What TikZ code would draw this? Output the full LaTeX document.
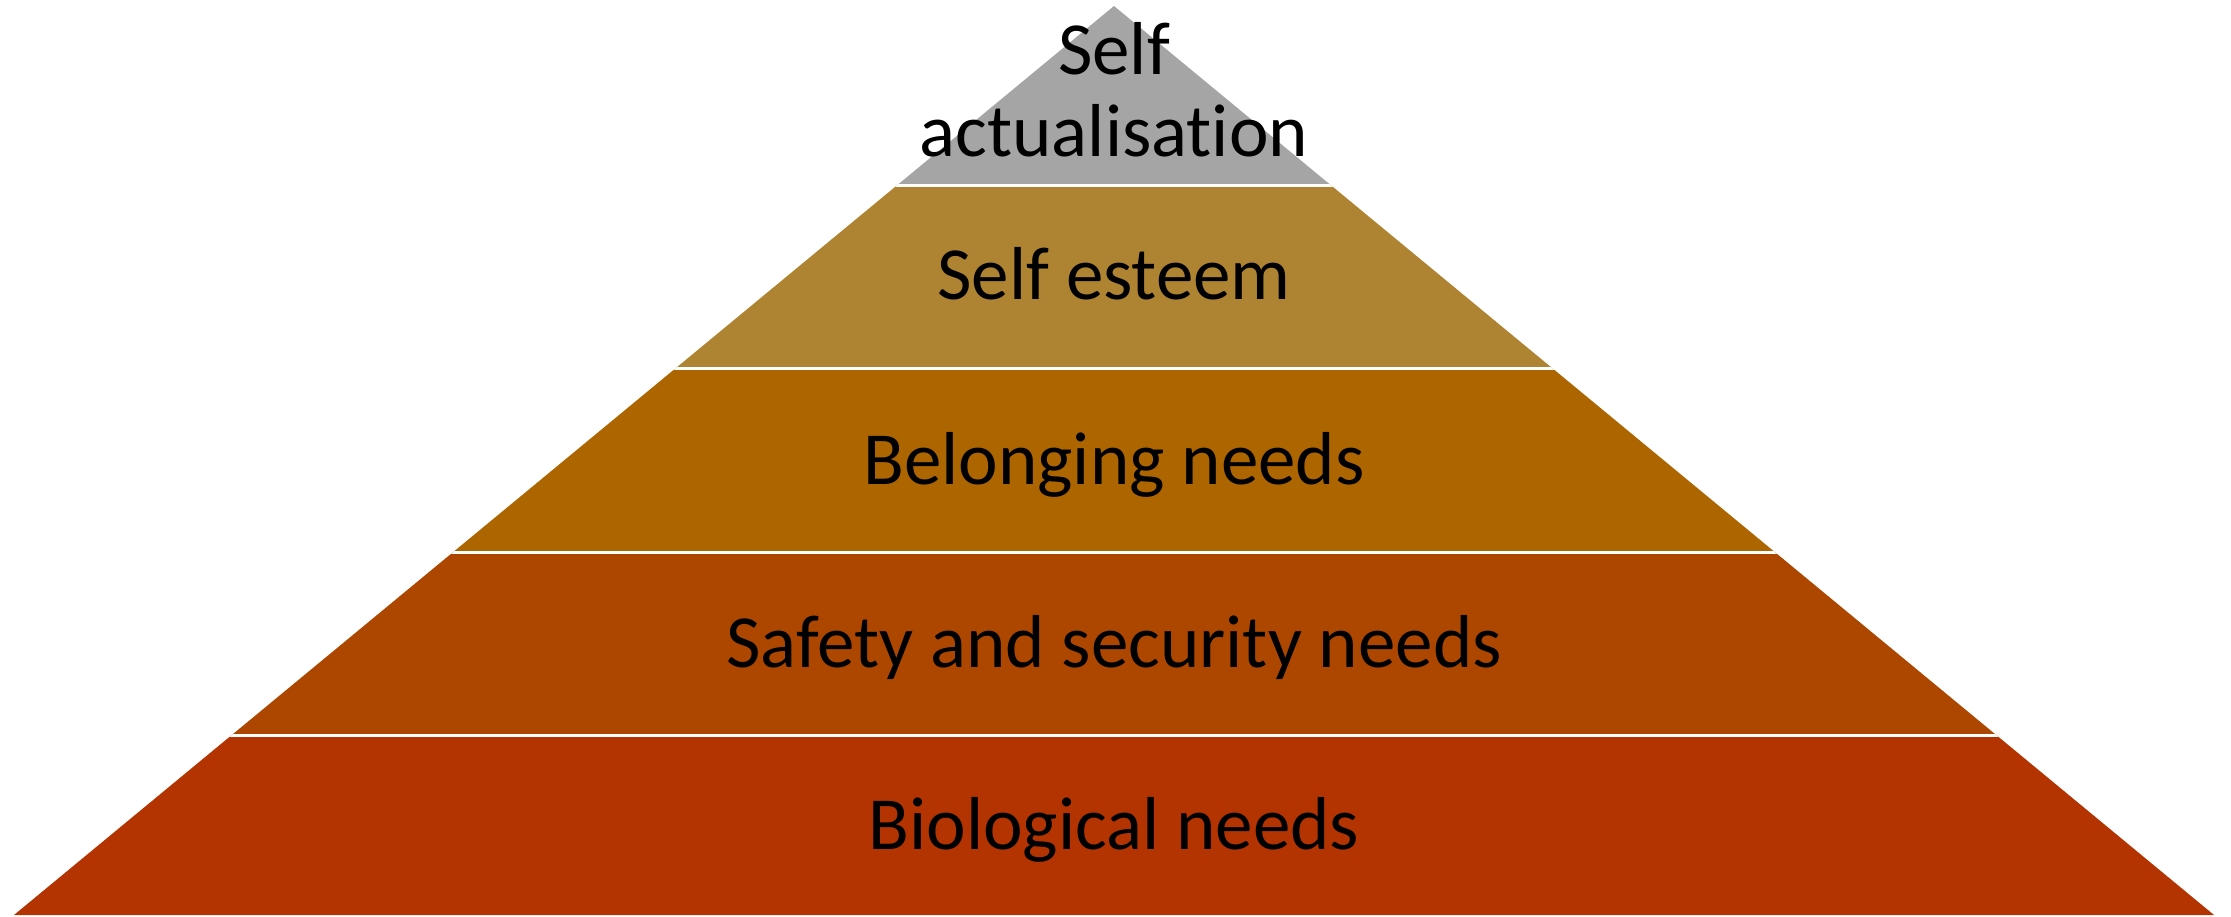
\documentclass[tikz,border=0pt]{standalone}
\usepackage{fontspec}
\setmainfont[Ligatures=NoCommon]{Carlito}
\definecolor{cTop}{RGB}{165,165,165}
\definecolor{cEsteem}{RGB}{174,132,50}
\definecolor{cBelong}{RGB}{173,101,0}
\definecolor{cSafety}{RGB}{173,71,0}
\definecolor{cBio}{RGB}{179,52,0}
\begin{document}
\begin{tikzpicture}[x=1pt,y=-1pt,
  lbl/.style={anchor=base,font=\fontsize{75}{82}\selectfont,text=black,inner sep=0pt},
  sep/.style={white,line width=3pt}]
\useasboundingbox (0,0) rectangle (2231,917);
\begin{scope}
  \clip (1114,6) -- (2214,915) -- (14,915) -- cycle;
  \fill[cTop]    (0,0)   rectangle (2231,186);
  \fill[cEsteem] (0,186) rectangle (2231,369);
  \fill[cBelong] (0,369) rectangle (2231,552);
  \fill[cSafety] (0,552) rectangle (2231,735);
  \fill[cBio]    (0,735) rectangle (2231,917);
  \draw[sep] (0,186) -- (2231,186);
  \draw[sep] (0,369) -- (2231,369);
  \draw[sep] (0,552) -- (2231,552);
  \draw[sep] (0,735) -- (2231,735);
\end{scope}
\node[lbl] (self) at (1114,75) {Self};
\node[lbl] (actual) at (1114,157) {actualisation};
\node[lbl] (esteem) at (1114,300) {Self esteem};
\node[lbl] (belong) at (1114,484) {Belonging needs};
\node[lbl] (safety) at (1114,667) {Safety and security needs};
\node[lbl] (bio) at (1114,849) {Biological needs};
\end{tikzpicture}
\end{document}
